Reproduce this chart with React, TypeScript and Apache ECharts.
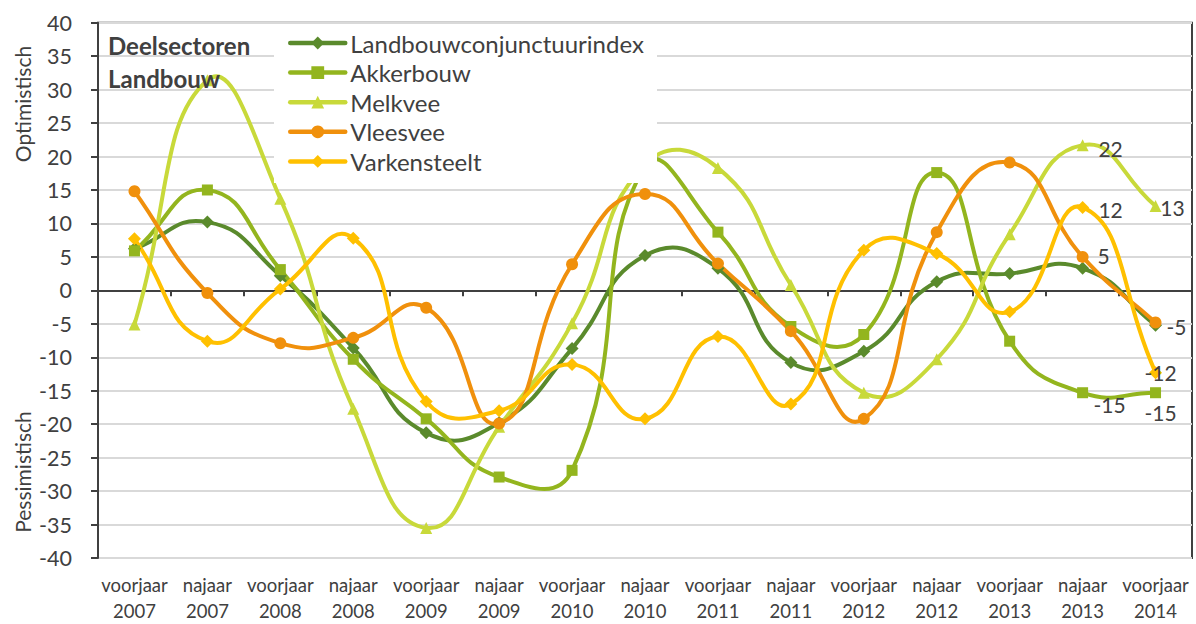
import React, { useEffect, useRef } from 'react';
import * as echarts from 'echarts';

const categories = [
  'voorjaar\n2007', 'najaar\n2007', 'voorjaar\n2008', 'najaar\n2008', 'voorjaar\n2009',
  'najaar\n2009', 'voorjaar\n2010', 'najaar\n2010', 'voorjaar\n2011', 'najaar\n2011',
  'voorjaar\n2012', 'najaar\n2012', 'voorjaar\n2013', 'najaar\n2013', 'voorjaar\n2014',
];

const landbouw = [6.2, 10.2, 2.2, -8.6, -21.3, -19.8, -8.7, 5.2, 3.3, -10.8, -9.1, 1.3, 2.5, 3.3, -5.2];
const akkerbouw = [5.9, 15.0, 3.1, -10.3, -19.2, -27.9, -26.9, 18.5, 8.7, -5.4, -6.6, 17.6, -7.6, -15.3, -15.3];
const melkvee = [-5.1, 31.4, 13.7, -17.7, -35.5, -20.4, -4.9, 18.8, 18.3, 0.8, -15.3, -10.3, 8.4, 21.7, 12.6];
const vleesvee = [14.8, -0.4, -7.9, -7.1, -2.6, -19.9, 3.9, 14.4, 4.0, -6.1, -19.2, 8.7, 19.1, 5.0, -4.8];
const varkensteelt = [7.7, -7.6, 0.2, 7.8, -16.6, -18.0, -11.1, -19.2, -6.9, -17.0, 6.0, 5.5, -3.2, 12.4, -12.3];

const seriesNames = ['Landbouwconjunctuurindex', 'Akkerbouw', 'Melkvee', 'Vleesvee', 'Varkensteelt'];
const seriesValues = [landbouw, akkerbouw, melkvee, vleesvee, varkensteelt];

const yTitleTop = 'Optimistisch';
const yTitleBottom = 'Pessimistisch';
const boxTitle = ['Deelsectoren', 'Landbouw'];

const FONT = 'Lato';
const TEXT = '#404040';
const SMOOTH = 0.5;

const seriesStyles = [
  { color: '#5A8A2C', symbol: 'diamond', size: 13 },
  { color: '#93B51E', symbol: 'rect', size: 11 },
  { color: '#C8D93A', symbol: 'triangle', size: 12 },
  { color: '#F0900C', symbol: 'circle', size: 12 },
  { color: '#FFC000', symbol: 'diamond', size: 13 },
];

// data-label placement (index -> offset from marker centre)
const labelOffsets: Record<number, [number, number]>[] = [
  {},
  { 13: [27, 12], 14: [5, 20] },
  { 13: [28, 3], 14: [17, 1] },
  { 13: [21, -1.5], 14: [21, 4] },
  { 13: [28, 2], 14: [5, 0] },
];

type Pt = number[];

// Excel-like smoothing: handle length weighted by neighbouring segment lengths
function controls(pts: Pt[], i: number, s: number) {
  const p = pts[i];
  const prev = pts[Math.max(i - 1, 0)];
  const next = pts[Math.min(i + 1, pts.length - 1)];
  const vx = next[0] - prev[0];
  const vy = next[1] - prev[1];
  const l0 = Math.hypot(p[0] - prev[0], p[1] - prev[1]);
  const l1 = Math.hypot(next[0] - p[0], next[1] - p[1]);
  const r = l0 + l1 > 0 ? l1 / (l0 + l1) : 0.5;
  return {
    out: [p[0] + vx * s * r, p[1] + vy * s * r],
    inn: [p[0] - vx * s * (1 - r), p[1] - vy * s * (1 - r)],
  };
}

export default function App() {
  const ref = useRef<HTMLDivElement>(null);
  useEffect(() => {
    if (!ref.current) return;
    const chart = echarts.init(ref.current, undefined, { renderer: 'svg' });

    const series: any[] = [];
    seriesValues.forEach((vals, k) => {
      const st = seriesStyles[k];
      const offs = labelOffsets[k];
      series.push({
        type: 'custom',
        id: 'curve' + k,
        xAxisIndex: 0,
        yAxisIndex: 0,
        silent: true,
        z: 2,
        encode: { x: 0, y: 1 },
        data: vals.map((v, i) => [i, v]),
        renderItem: (params: any, api: any) => {
          const i = params.dataIndex;
          if (i >= vals.length - 1) return { type: 'group', children: [] };
          const pts = vals.map((v, j) => api.coord([j, v]));
          const a = controls(pts, i, SMOOTH);
          const b = controls(pts, i + 1, SMOOTH);
          return {
            type: 'bezierCurve',
            shape: {
              x1: pts[i][0], y1: pts[i][1],
              x2: pts[i + 1][0], y2: pts[i + 1][1],
              cpx1: a.out[0], cpy1: a.out[1],
              cpx2: b.inn[0], cpy2: b.inn[1],
            },
            style: { stroke: st.color, lineWidth: 4, fill: 'none', lineCap: 'round' },
          };
        },
      });
      series.push({
        type: 'line',
        name: seriesNames[k],
        xAxisIndex: 0,
        yAxisIndex: 0,
        symbol: st.symbol,
        symbolSize: st.size,
        showSymbol: true,
        lineStyle: { color: st.color, width: 4, opacity: 0 },
        itemStyle: { color: st.color, borderWidth: 0 },
        z: 2,
        data: vals.map((v, i) =>
          offs[i]
            ? {
                value: v,
                label: {
                  show: true,
                  position: 'inside',
                  offset: offs[i],
                  formatter: () => String(Math.round(v)),
                  fontFamily: FONT,
                  fontSize: 21,
                  color: TEXT,
                },
              }
            : v
        ),
      });
    });

    chart.setOption({
      animation: false,
      backgroundColor: '#ffffff',
      textStyle: { fontFamily: FONT },
      grid: {
        left: 98,
        right: 4,
        top: 22.7,
        bottom: 62.3,
        show: true,
        borderColor: '#404040',
        borderWidth: 2,
        containLabel: false,
      },
      xAxis: [
        {
          type: 'category',
          data: categories,
          position: 'bottom',
          boundaryGap: true,
          axisLine: { show: false, onZero: false },
          axisTick: { show: false },
          splitLine: { show: false },
          axisLabel: {
            interval: 0,
            fontFamily: FONT,
            fontSize: 18.5,
            lineHeight: 26,
            color: TEXT,
            margin: 14,
          },
        },
        {
          type: 'category',
          data: categories,
          position: 'bottom',
          boundaryGap: true,
          axisLine: { show: true, onZero: true, lineStyle: { color: '#404040', width: 2 } },
          axisTick: { show: true, interval: 0, length: 6, lineStyle: { color: '#404040', width: 2 } },
          axisLabel: { show: false },
          splitLine: { show: false },
        },
      ],
      yAxis: {
        type: 'value',
        min: -40,
        max: 40,
        interval: 5,
        axisLine: { show: true, lineStyle: { color: '#404040', width: 2 } },
        axisTick: { show: true, length: 7, lineStyle: { color: '#404040', width: 2 } },
        splitLine: { show: true, lineStyle: { color: '#D9D9D9', width: 2 } },
        axisLabel: { fontFamily: FONT, fontSize: 21.5, color: TEXT, margin: 26 },
      },
      legend: {
        orient: 'vertical',
        left: 288,
        top: 31,
        padding: 0,
        itemWidth: 55,
        itemHeight: 16,
        itemGap: 5.6,
        data: seriesNames.map((n, k) => ({
          name: n,
          lineStyle: { color: seriesStyles[k].color, width: 4.5, opacity: 1, cap: 'round' },
          itemStyle: { color: seriesStyles[k].color, opacity: 1 },
        })),
        textStyle: { fontFamily: FONT, fontSize: 24, lineHeight: 22, color: TEXT },
        z: 5,
      },
      graphic: [
        {
          type: 'rect',
          z: 3,
          silent: true,
          shape: { x: 274, y: 24, width: 383, height: 159 },
          style: { fill: '#ffffff' },
        },
        {
          type: 'text',
          z: 5,
          x: 108,
          y: 45,
          style: {
            text: boxTitle[0],
            font: `bold 24px ${FONT}`,
            fill: TEXT,
            verticalAlign: 'middle',
            textVerticalAlign: 'middle',
          },
        },
        {
          type: 'text',
          z: 5,
          x: 108,
          y: 78,
          style: {
            text: boxTitle[1],
            font: `bold 24px ${FONT}`,
            fill: TEXT,
            verticalAlign: 'middle',
            textVerticalAlign: 'middle',
          },
        },
        {
          type: 'text',
          x: 22,
          y: 104,
          rotation: Math.PI / 2,
          style: {
            text: yTitleTop,
            font: `21px ${FONT}`,
            fill: TEXT,
            align: 'center',
            verticalAlign: 'middle',
            textAlign: 'center',
            textVerticalAlign: 'middle',
          },
        },
        {
          type: 'text',
          x: 22,
          y: 472,
          rotation: Math.PI / 2,
          style: {
            text: yTitleBottom,
            font: `21px ${FONT}`,
            fill: TEXT,
            align: 'center',
            verticalAlign: 'middle',
            textAlign: 'center',
            textVerticalAlign: 'middle',
          },
        },
      ],
      series,
    });

    return () => chart.dispose();
  }, []);

  return (
    <div
      ref={ref}
      style={{ position: 'fixed', left: 0, top: 0, width: 1196, height: 624, background: '#fff' }}
    />
  );
}
